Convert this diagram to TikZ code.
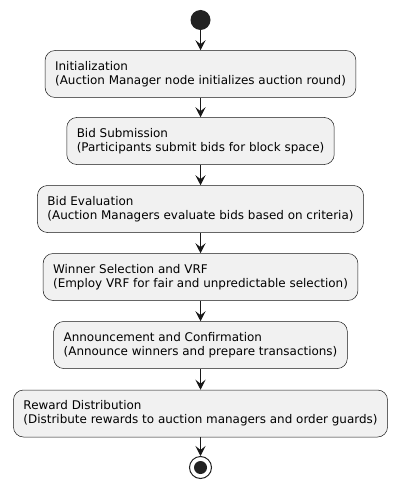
\documentclass[tikz,border=0pt]{standalone}
\usepackage{fontspec}
\setmainfont{DejaVu Sans}
\usetikzlibrary{arrows.meta}
\definecolor{boxfill}{HTML}{F1F1F1}
\definecolor{boxline}{HTML}{181818}
\definecolor{dot}{HTML}{222222}
\begin{document}
\begin{tikzpicture}[x=1pt,y=-1pt,
  act/.style={draw=boxline, line width=0.5pt, fill=boxfill, rounded corners=10pt,
    align=left, font=\fontsize{11.95}{14}\selectfont, inner xsep=10pt, inner ysep=4pt,
    minimum height=47pt, anchor=center},
  flow/.style={draw=boxline, line width=1pt, -{Stealth[length=10pt,width=10pt,inset=4pt]}}]
\useasboundingbox (0,0) rectangle (400,489);
\node[circle, fill=dot, minimum size=20pt, inner sep=0pt] (start) at (200.5,20) {};
\node[act] (a1) at (200.5,74) {Initialization\\(Auction Manager node initializes auction round)};
\node[act] (a2) at (200.5,141) {Bid Submission\\(Participants submit bids for block space)};
\node[act] (a3) at (200.5,209) {Bid Evaluation\\(Auction Managers evaluate bids based on criteria)};
\node[act] (a4) at (200.5,277) {Winner Selection and VRF\\(Employ VRF for fair and unpredictable selection)};
\node[act] (a5) at (200.5,345) {Announcement and Confirmation\\(Announce winners and prepare transactions)};
\node[act] (a6) at (200.5,413.5) {Reward Distribution\\(Distribute rewards to auction managers and order guards)};
\node[circle, draw=dot, line width=1pt, fill=white, minimum size=22pt, inner sep=0pt] (stop) at (200.5,467.5) {};
\fill[dot] (stop.center) circle (6.5pt);
\draw[flow] (start) -- (a1);
\draw[flow] (a1) -- (a2);
\draw[flow] (a2) -- (a3);
\draw[flow] (a3) -- (a4);
\draw[flow] (a4) -- (a5);
\draw[flow] (a5) -- (a6);
\draw[flow] (a6) -- (stop);
\end{tikzpicture}
\end{document}
